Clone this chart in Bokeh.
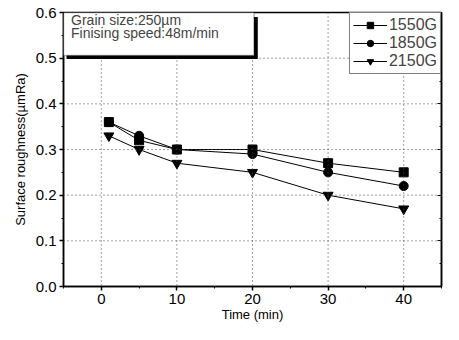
from bokeh.plotting import figure
from bokeh.models import (Range1d, LinearAxis, BoxAnnotation, Label, Legend, LegendItem,
                          FixedTicker, ColumnDataSource, CustomJSTickFormatter, Span)
from bokeh.embed import file_html
from bokeh.resources import INLINE

time = [1, 5, 10, 20, 30, 40]
g1550 = [0.36, 0.32, 0.30, 0.30, 0.27, 0.25]
g1850 = [0.36, 0.33, 0.30, 0.29, 0.25, 0.22]
g2150 = [0.33, 0.30, 0.27, 0.25, 0.20, 0.17]
series_names = ["1550G", "1850G", "2150G"]
x_ticks = [0, 10, 20, 30, 40]
y_ticks = [0.0, 0.1, 0.2, 0.3, 0.4, 0.5, 0.6]

FONT = "Liberation Sans"

p = figure(width=443, height=324, output_backend="svg", toolbar_location=None,
           x_range=Range1d(-5, 45), y_range=Range1d(0, 0.6),
           min_border_left=63, min_border_right=2, min_border_top=12, min_border_bottom=30)
p.outline_line_color = "black"
p.outline_line_width = 1.5
p.background_fill_color = "white"
p.border_fill_color = "white"

p.xgrid.visible = False
p.ygrid.visible = False
for xv in x_ticks:
    p.add_layout(Span(location=xv, dimension="height", line_color="#444444",
                      line_dash="1 3", line_width=1))
for yv in y_ticks[1:-1]:
    p.add_layout(Span(location=yv, dimension="width", line_color="#444444",
                      line_dash="1 3", line_width=1))

p.xaxis.ticker = FixedTicker(ticks=x_ticks, minor_ticks=[-5, 5, 15, 25, 35, 45])
p.yaxis.ticker = FixedTicker(ticks=y_ticks, minor_ticks=[0.05, 0.15, 0.25, 0.35, 0.45, 0.55])
p.yaxis.formatter = CustomJSTickFormatter(code="return tick.toFixed(1);")

for ax in (p.xaxis, p.yaxis):
    ax.axis_line_width = 1.5
    ax.axis_line_color = "black"
    ax.major_tick_line_width = 1.5
    ax.major_tick_out = 4
    ax.major_tick_in = 0
    ax.minor_tick_out = 2
    ax.minor_tick_in = 0
    ax.major_label_text_font = FONT
    ax.major_label_text_font_size = "15px"
    ax.major_label_text_color = "black"
    ax.axis_label_text_font = FONT
    ax.axis_label_text_font_size = "13px"
    ax.axis_label_text_font_style = "normal"
    ax.axis_label_text_color = "black"

p.xaxis.axis_label = "Time (min)"
p.yaxis.axis_label = "Surface roughness(\u00b5mRa)"
p.xaxis.axis_label_standoff = 0
p.yaxis.axis_label_standoff = 5
p.xaxis.major_label_standoff = 3
p.yaxis.major_label_standoff = 3

right = LinearAxis(ticker=FixedTicker(ticks=y_ticks, minor_ticks=[0.05, 0.15, 0.25, 0.35, 0.45, 0.55]),
                   major_label_text_color=None, major_tick_out=0, major_tick_in=4,
                   minor_tick_out=0, minor_tick_in=2, axis_line_width=1.5)
p.add_layout(right, "right")

markers = ["square", "circle", "inverted_triangle"]
data = [g1550, g1850, g2150]
items = []
for name, ys, mk in zip(series_names, data, markers):
    src = ColumnDataSource(dict(x=time, y=ys))
    ln = p.line("x", "y", source=src, line_color="black", line_width=1)
    sc = p.scatter("x", "y", source=src, marker=mk, size=9 if mk != "inverted_triangle" else 10,
                   fill_color="black", line_color="black")
    items.append(LegendItem(label=name, renderers=[ln, sc]))

legend = Legend(items=items, location="top_right", border_line_color="black",
                border_line_width=1.5, label_text_font=FONT, label_text_font_size="16px",
                glyph_width=34, glyph_height=16, label_standoff=2, spacing=-1,
                padding=3, margin=0, label_height=16,
                background_fill_color="white", background_fill_alpha=1)
p.add_layout(legend)

# annotation box with shadow
p.add_layout(BoxAnnotation(left=-4.6, right=20.7, bottom=0.498, top=0.59,
                           fill_color="black", fill_alpha=1, line_color=None))
p.add_layout(BoxAnnotation(left=-5, right=20.2, bottom=0.506, top=0.6,
                           fill_color="white", fill_alpha=1, line_color="black", line_width=1.5))
p.add_layout(Label(x=-4.0, y=0.584, text="Grain size:250\u00b5m", text_font=FONT,
                   text_font_size="14px", text_baseline="middle"))
p.add_layout(Label(x=-4.0, y=0.556, text="Finising speed:48m/min", text_font=FONT,
                   text_font_size="14px", text_baseline="middle"))

open("out.html", "w").write(file_html(p, INLINE))
